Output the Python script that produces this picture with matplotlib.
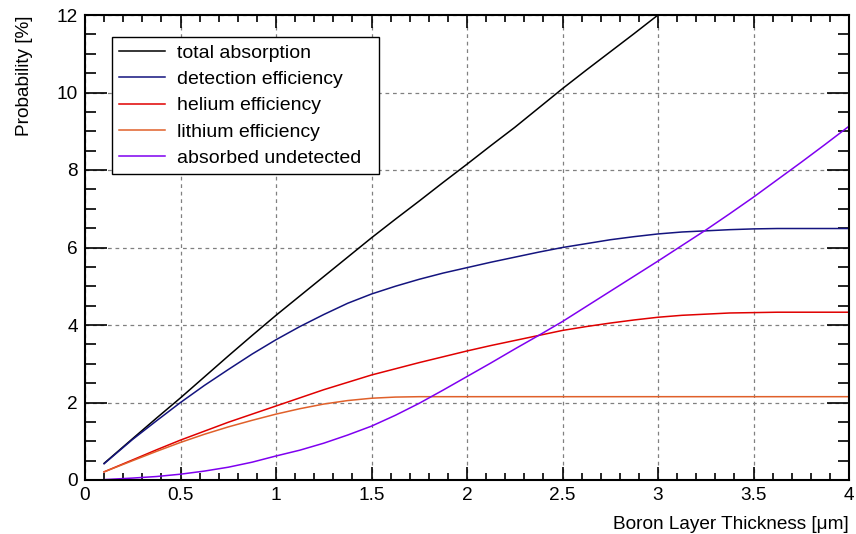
import matplotlib
matplotlib.use("Agg")
import matplotlib.pyplot as plt
from matplotlib.ticker import MultipleLocator

plt.rcParams['font.family'] = ['Liberation Sans', 'DejaVu Sans']

# boron layer thickness [um]
thickness = [0.1, 0.25, 0.375, 0.5, 0.625, 0.75, 0.875, 1.0, 1.125, 1.25,
             1.375, 1.5, 1.625, 1.75, 1.875, 2.0, 2.125, 2.25, 2.375, 2.5,
             2.625, 2.75, 2.875, 3.0, 3.125, 3.25, 3.375, 3.5, 3.625, 3.75,
             3.875, 4.0]

# probabilities [%]
total_absorption = [0.43, 1.07, 1.6, 2.12, 2.66, 3.2, 3.73, 4.25, 4.75, 5.25,
                    5.75, 6.25, 6.73, 7.2, 7.68, 8.15, 8.63, 9.1, 9.6, 10.1,
                    10.58, 11.05, 11.52, 12.0, 12.45, 12.9, 13.35, 13.8,
                    14.25, 14.7, 15.15, 15.6]
detection_eff = [0.42, 1.05, 1.53, 2.0, 2.44, 2.85, 3.25, 3.62, 3.96, 4.27,
                 4.56, 4.8, 5.0, 5.18, 5.34, 5.48, 5.62, 5.75, 5.88, 6.0,
                 6.1, 6.2, 6.28, 6.35, 6.4, 6.43, 6.46, 6.48, 6.49, 6.49,
                 6.49, 6.49]
helium_eff = [0.21, 0.52, 0.78, 1.03, 1.26, 1.49, 1.7, 1.91, 2.12, 2.33,
              2.52, 2.71, 2.87, 3.03, 3.18, 3.33, 3.47, 3.6, 3.73, 3.86,
              3.96, 4.05, 4.13, 4.2, 4.25, 4.28, 4.31, 4.32, 4.33, 4.33,
              4.33, 4.33]
lithium_eff = [0.21, 0.5, 0.74, 0.97, 1.18, 1.37, 1.54, 1.7, 1.84, 1.96,
               2.05, 2.11, 2.14, 2.15, 2.15, 2.15, 2.15, 2.15, 2.15, 2.15,
               2.15, 2.15, 2.15, 2.15, 2.15, 2.15, 2.15, 2.15, 2.15, 2.15,
               2.15, 2.15]
absorbed_undetected = [0.01, 0.05, 0.09, 0.15, 0.23, 0.33, 0.46, 0.62, 0.77,
                       0.95, 1.16, 1.39, 1.67, 1.98, 2.32, 2.67, 3.02, 3.38,
                       3.73, 4.09, 4.48, 4.87, 5.26, 5.65, 6.05, 6.45, 6.87,
                       7.3, 7.75, 8.2, 8.66, 9.13]

labels = ["total absorption", "detection efficiency", "helium efficiency",
          "lithium efficiency", "absorbed undetected"]
colors = ["#000000", "#14147f", "#e00000", "#e0602a", "#7f00f0"]
series = [total_absorption, detection_eff, helium_eff, lithium_eff,
          absorbed_undetected]

fig = plt.figure(figsize=(8.56, 5.34), dpi=100)
ax = fig.add_axes([85 / 856, 54 / 534, 764 / 856, 465 / 534])

for vals, col, lab in zip(series, colors, labels):
    ax.plot(thickness, vals, color=col, lw=1.1, label=lab)

ax.set_xlim(0, 4)
ax.set_ylim(0, 12)
ax.xaxis.set_minor_locator(MultipleLocator(0.1))
ax.yaxis.set_major_locator(MultipleLocator(2))
ax.yaxis.set_minor_locator(MultipleLocator(0.5))
ax.set_xticks([0, 0.5, 1, 1.5, 2, 2.5, 3, 3.5, 4])
ax.set_xticklabels(["0", "0.5", "1", "1.5", "2", "2.5", "3", "3.5", "4"])

ax.grid(True, which='major', color='#808080', ls=(0, (3, 3)), lw=0.9)
ax.set_axisbelow(True)

ax.tick_params(axis='x', which='major', direction='in', top=True,
               length=9.4, width=1.2, labelsize=13.7, pad=5)
ax.tick_params(axis='x', which='minor', direction='in', top=True,
               length=4.7, width=1.2)
ax.tick_params(axis='y', which='major', direction='in', right=True,
               length=15.8, width=1.2, labelsize=13.7, pad=5)
ax.tick_params(axis='y', which='minor', direction='in', right=True,
               length=7.9, width=1.2)
for s in ax.spines.values():
    s.set_linewidth(1.5)

ax.set_xlabel("Boron Layer Thickness [μm]", fontsize=13.7, loc='right',
              labelpad=9)
ax.set_ylabel("Probability [%]", fontsize=13.7, loc='top', labelpad=17)

leg = ax.legend(loc='upper left', bbox_to_anchor=(0.035, 0.66, 0.35, 0.292),
                mode='expand', fontsize=14, frameon=True, fancybox=False,
                framealpha=1, edgecolor='black', handlelength=2.4,
                handletextpad=0.6, labelspacing=0.45, borderpad=0.35,
                borderaxespad=0)
leg.get_frame().set_linewidth(1.0)

fig.savefig("out.png", dpi=100)
